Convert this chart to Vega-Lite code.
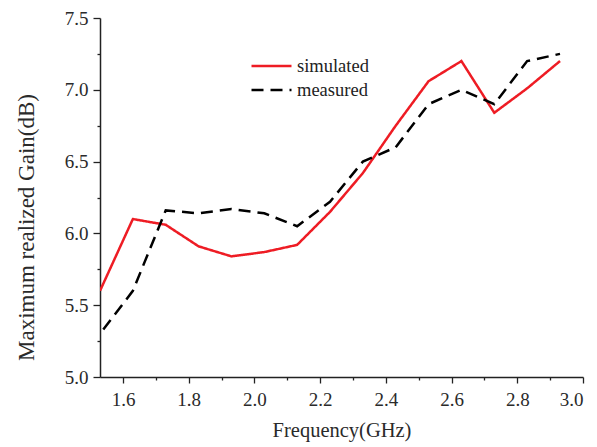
{
  "$schema": "https://vega.github.io/schema/vega-lite/v6.json",
  "width": 483,
  "height": 359,
  "autosize": {"type": "none"},
  "padding": {"left": 100, "top": 18, "right": 14, "bottom": 70},
  "background": "white",
  "data": {
    "values": [
      {"f": 1.53, "g": 5.6, "series": "simulated"},
      {"f": 1.63, "g": 6.1, "series": "simulated"},
      {"f": 1.73, "g": 6.06, "series": "simulated"},
      {"f": 1.83, "g": 5.91, "series": "simulated"},
      {"f": 1.93, "g": 5.84, "series": "simulated"},
      {"f": 2.03, "g": 5.87, "series": "simulated"},
      {"f": 2.13, "g": 5.92, "series": "simulated"},
      {"f": 2.23, "g": 6.15, "series": "simulated"},
      {"f": 2.33, "g": 6.42, "series": "simulated"},
      {"f": 2.43, "g": 6.75, "series": "simulated"},
      {"f": 2.53, "g": 7.06, "series": "simulated"},
      {"f": 2.63, "g": 7.2, "series": "simulated"},
      {"f": 2.73, "g": 6.84, "series": "simulated"},
      {"f": 2.83, "g": 7.01, "series": "simulated"},
      {"f": 2.93, "g": 7.2, "series": "simulated"},
      {"f": 1.54, "g": 5.33, "series": "measured"},
      {"f": 1.63, "g": 5.6, "series": "measured"},
      {"f": 1.73, "g": 6.16, "series": "measured"},
      {"f": 1.83, "g": 6.14, "series": "measured"},
      {"f": 1.93, "g": 6.17, "series": "measured"},
      {"f": 2.03, "g": 6.14, "series": "measured"},
      {"f": 2.13, "g": 6.05, "series": "measured"},
      {"f": 2.23, "g": 6.22, "series": "measured"},
      {"f": 2.33, "g": 6.5, "series": "measured"},
      {"f": 2.43, "g": 6.6, "series": "measured"},
      {"f": 2.53, "g": 6.9, "series": "measured"},
      {"f": 2.63, "g": 7.0, "series": "measured"},
      {"f": 2.73, "g": 6.9, "series": "measured"},
      {"f": 2.83, "g": 7.2, "series": "measured"},
      {"f": 2.93, "g": 7.25, "series": "measured"}
    ]
  },
  "config": {
    "view": {"stroke": null},
    "font": "Liberation Serif",
    "axis": {
      "domainColor": "#222",
      "domainWidth": 1.5,
      "tickColor": "#222",
      "tickWidth": 1.3,
      "grid": false,
      "labelFont": "Liberation Serif",
      "titleFont": "Liberation Serif",
      "labelFontSize": 19,
      "labelColor": "#2a2a2a",
      "titleColor": "#2a2a2a",
      "titleFontWeight": "normal"
    }
  },
  "mark": {"type": "line", "strokeWidth": 2.5, "clip": true},
  "encoding": {
    "x": {
      "field": "f",
      "type": "quantitative",
      "scale": {"domain": [1.53, 3.0], "nice": false, "zero": false},
      "axis": {
        "title": "Frequency(GHz)",
        "titleFontSize": 20.5,
        "values": [1.6, 1.7, 1.8, 1.9, 2.0, 2.1, 2.2, 2.3, 2.4, 2.5, 2.6, 2.7, 2.8, 2.9, 3.0],
        "labelExpr": "round(datum.value*10) % 2 == 0 ? format(datum.value, '.1f') : ''",
        "tickSize": {"condition": {"test": "round(datum.value*10) % 2 == 0", "value": 6}, "value": 3},
        "labelPadding": 7,
        "titlePadding": 11
      }
    },
    "y": {
      "field": "g",
      "type": "quantitative",
      "scale": {"domain": [5.0, 7.5], "nice": false, "zero": false},
      "axis": {
        "title": "Maximum realized Gain(dB)",
        "titleFontSize": 23,
        "titleY": 209,
        "values": [5.0, 5.25, 5.5, 5.75, 6.0, 6.25, 6.5, 6.75, 7.0, 7.25, 7.5],
        "labelExpr": "round(datum.value*4) % 2 == 0 ? format(datum.value, '.1f') : ''",
        "tickSize": {"condition": {"test": "round(datum.value*4) % 2 == 0", "value": 7}, "value": 3},
        "labelPadding": 5,
        "titlePadding": 26
      }
    },
    "color": {
      "field": "series",
      "type": "nominal",
      "scale": {"domain": ["simulated", "measured"], "range": ["#ee1c24", "#000000"]},
      "legend": {
        "title": null,
        "orient": "none",
        "legendX": 150,
        "legendY": 38,
        "symbolType": "stroke",
        "symbolSize": 1600,
        "symbolStrokeWidth": 2.5,
        "clipHeight": 20,
        "labelFont": "Liberation Serif",
        "labelFontSize": 18.5,
        "labelColor": "#222",
        "rowPadding": 4,
        "labelOffset": 4
      }
    },
    "strokeDash": {
      "field": "series",
      "type": "nominal",
      "scale": {"domain": ["simulated", "measured"], "range": [[1, 0], [12, 7]]},
      "legend": null
    }
  }
}
